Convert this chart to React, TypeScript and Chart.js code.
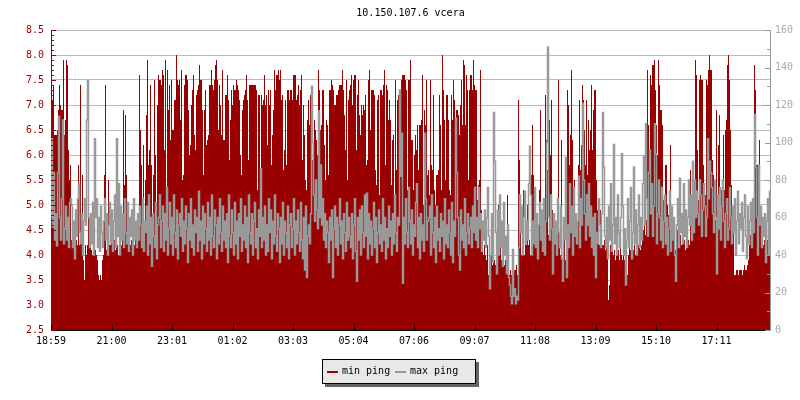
import React, { useEffect, useRef } from "react";
import { Chart, registerables } from "chart.js";

Chart.register(...registerables);

const chartTitle = "10.150.107.6 vcera";
const tickLabels = ["18:59","21:00","23:01","01:02","03:03","05:04","07:06","09:07","11:08","13:09","15:10","17:11"];

const minPing = [
6.5,6.5,7.1,7.4,6.4,6.4,6.4,6.5,6.9,7.4,7.0,6.9,6.9,7.9,6.4,6.7,7.9,7.8,6.1,5.5,
5.8,4.3,4.4,4.2,4.1,4.0,4.3,4.2,5.8,4.2,7.4,4.4,5.6,3.9,3.5,4.2,4.0,4.2,4.9,4.2,
4.4,4.1,4.0,4.1,4.0,4.1,4.0,3.9,3.6,3.5,3.6,3.5,3.9,4.0,5.6,7.4,4.1,4.2,5.5,4.2,
4.2,4.3,4.1,4.2,4.3,4.1,4.2,4.2,4.0,4.1,4.3,4.2,4.3,6.9,5.4,6.8,5.6,4.3,4.2,4.4,
4.2,4.3,4.1,4.3,4.2,4.4,4.2,4.3,4.4,7.6,6.5,5.8,4.6,6.2,4.5,5.5,6.8,7.9,5.8,6.1,
7.4,5.8,4.6,5.6,7.5,6.0,4.8,7.0,7.6,7.5,7.5,7.4,7.7,7.6,6.1,7.9,5.0,7.7,6.9,7.4,
6.3,7.5,6.5,6.5,7.1,7.1,8.0,7.5,7.4,7.5,6.7,7.7,5.5,5.6,7.4,7.6,7.6,7.5,6.9,6.0,
6.2,7.0,7.3,7.6,6.4,6.1,7.2,7.3,7.4,7.8,7.5,7.5,6.9,5.6,6.9,7.3,6.2,6.3,6.4,7.4,
7.4,7.7,7.4,7.3,7.5,7.8,7.9,7.5,6.5,7.4,7.0,6.4,7.7,6.3,6.3,7.2,7.2,7.6,7.1,5.9,
6.7,7.3,7.0,7.4,7.3,7.3,7.5,7.4,7.3,7.1,6.0,5.6,6.9,7.1,7.2,7.3,7.6,7.1,5.9,7.4,
7.4,7.4,7.4,7.4,7.4,7.4,7.3,5.3,7.2,7.2,5.6,7.2,7.0,7.1,7.6,7.0,7.2,6.2,7.3,7.0,
7.3,5.8,6.4,6.9,7.7,7.3,7.6,7.6,7.7,7.5,7.7,7.1,7.2,5.7,6.1,7.1,5.8,7.3,7.3,7.1,
7.3,7.3,7.1,7.6,7.6,7.6,7.1,7.2,7.4,7.0,7.3,7.6,5.9,7.0,6.4,5.5,5.3,6.7,7.1,6.6,
7.2,6.1,5.9,5.6,6.7,6.5,6.3,6.0,7.7,7.3,6.5,6.6,7.3,7.3,6.2,5.5,6.7,6.6,5.6,7.3,
7.3,7.5,7.4,7.3,7.0,7.0,7.2,7.2,7.3,7.4,7.4,7.4,7.7,7.3,6.8,6.1,7.5,5.5,7.1,7.3,
7.4,7.6,7.0,7.5,7.6,7.6,6.1,7.2,7.5,6.8,6.4,7.0,6.8,7.0,6.9,7.2,5.8,5.9,7.5,7.7,
6.5,7.3,7.3,7.3,7.2,5.7,5.4,7.1,7.2,5.2,7.3,7.3,7.2,7.4,7.7,5.8,7.4,7.3,6.7,7.1,
6.7,5.4,6.3,6.4,5.0,7.5,5.7,7.1,7.2,7.3,6.4,7.5,7.6,7.6,7.6,7.5,7.3,5.3,7.5,7.5,
7.9,6.3,6.3,5.3,6.0,6.4,6.1,6.6,5.7,6.6,6.6,6.7,7.6,5.0,6.9,6.6,7.5,5.6,5.7,5.2,
7.5,5.8,5.7,7.2,5.3,5.0,5.6,5.6,5.7,7.2,6.6,5.3,8.0,7.3,6.7,5.5,7.2,7.2,6.7,5.3,
5.2,7.2,6.7,7.5,7.1,6.1,6.9,6.9,6.8,6.4,7.0,7.5,6.6,7.9,7.8,6.6,7.6,7.3,5.5,7.3,
7.6,7.6,7.3,7.9,7.4,7.3,7.3,5.1,5.4,5.5,7.7,4.9,4.1,4.0,4.2,4.0,3.9,4.2,3.6,3.8,
3.9,4.1,3.8,4.0,3.9,3.8,4.0,3.7,5.0,4.1,4.3,3.9,4.6,4.0,3.8,3.9,4.0,5.2,3.7,3.6,
3.7,3.6,3.7,3.6,3.7,3.7,3.8,3.6,7.1,5.9,5.2,4.0,4.6,5.3,4.0,4.7,4.2,5.0,4.2,4.3,
4.0,5.6,6.6,5.6,4.5,4.2,4.3,4.1,4.2,5.3,6.9,4.9,4.4,5.1,4.4,7.2,6.3,5.7,4.4,6.7,
6.0,7.1,4.9,4.4,4.5,4.6,4.5,4.3,7.5,4.2,4.0,6.3,3.6,3.7,4.4,3.9,5.6,7.3,7.0,5.8,
6.4,7.7,6.3,4.8,5.5,4.5,4.4,4.4,5.8,7.1,5.7,6.2,7.4,7.1,6.5,5.8,7.1,5.6,6.7,6.1,
6.5,7.4,6.1,6.9,7.3,7.3,5.5,4.9,4.3,4.2,4.9,4.3,4.2,4.2,4.3,4.1,4.2,4.0,3.1,3.4,
4.2,4.1,4.2,4.0,4.1,3.9,4.1,4.0,4.1,3.9,4.2,4.0,3.9,4.1,3.9,4.0,3.4,3.6,4.0,4.2,
4.1,4.2,4.0,4.1,4.2,4.0,4.2,4.1,4.2,4.3,4.1,4.2,5.2,4.5,4.6,4.4,4.7,7.7,6.6,5.8,
7.6,7.4,7.8,7.8,7.9,7.3,6.6,6.0,7.9,7.4,6.9,6.9,6.6,5.1,5.1,5.8,5.8,5.0,4.8,4.7,
6.2,4.4,4.5,4.3,4.2,4.1,4.2,4.5,4.3,4.2,4.4,4.2,4.5,4.4,4.3,4.1,4.2,4.4,4.3,4.2,
5.7,4.5,5.3,5.3,5.0,7.9,7.6,6.1,5.1,7.5,7.6,7.5,7.5,5.8,5.2,5.2,7.5,7.4,7.7,8.0,
7.7,7.7,5.9,5.6,5.4,4.7,6.9,5.2,6.2,6.8,4.6,5.3,5.2,6.4,5.3,6.5,6.7,7.8,8.0,7.5,
6.5,5.4,4.6,4.5,3.6,3.6,3.7,3.7,3.6,3.7,3.7,3.7,3.6,3.7,3.8,3.7,3.7,3.8,3.9,4.2,
4.4,4.8,4.9,4.8,7.8,7.3,5.8,5.8,4.5,6.3,4.8,4.4,4.3,4.2,4.3,4.4,4.2,4.3,4.4,4.3,
];

const maxPing = [
60,102,55,84,48,62,45,84,114,60,48,70,112,46,54,66,48,60,44,68,
70,66,44,58,38,64,50,70,78,52,46,62,40,58,70,56,112,133,60,44,
62,46,68,40,102,60,70,44,60,42,66,52,44,58,70,48,62,40,56,68,
46,64,42,58,72,44,102,50,78,40,66,48,62,44,70,52,46,68,42,60,
50,64,40,70,48,58,44,62,48,66,56,44,70,42,58,52,66,40,72,46,
60,34,62,50,44,68,38,56,60,72,44,58,66,42,62,48,76,40,54,68,
46,60,40,72,52,44,64,38,56,62,50,70,42,58,46,66,54,36,62,48,
70,44,56,40,64,52,60,42,74,48,58,38,66,46,62,54,42,68,48,60,
40,72,50,44,64,56,38,60,46,70,52,42,66,48,58,44,62,36,72,50,
44,64,52,40,68,46,58,38,62,50,70,42,56,48,66,44,60,36,72,52,
46,62,40,58,68,44,54,38,64,50,86,44,60,48,66,40,56,42,70,52,
64,38,58,46,72,50,42,62,54,36,60,46,68,40,58,52,44,66,38,56,
62,44,54,70,40,58,46,64,52,42,68,48,38,60,32,66,28,50,56,46,
62,130,100,72,58,80,64,54,117,60,88,56,70,48,62,44,58,52,36,60,
48,64,28,54,66,44,60,40,56,70,46,58,38,62,52,42,68,48,60,50,
44,62,38,56,70,42,26,60,48,64,40,66,52,44,72,50,73,38,62,46,
58,40,54,68,44,60,36,52,64,46,56,42,70,48,60,38,54,44,66,50,
58,40,62,46,72,52,42,60,56,128,82,105,25,60,46,70,52,44,76,58,
46,64,40,56,50,68,78,44,60,38,62,48,56,42,105,70,48,58,60,66,
40,72,52,44,60,36,66,48,54,42,62,50,58,38,70,46,56,44,64,52,
40,68,36,58,50,113,84,60,40,32,64,48,56,44,70,40,52,62,46,54,
60,44,66,52,76,48,60,44,76,54,62,42,58,48,64,44,60,76,50,22,
40,62,36,116,90,52,30,64,40,72,44,58,34,68,40,50,30,56,28,24,
18,14,43,18,22,14,18,16,44,72,52,66,40,60,74,46,58,48,78,98,
72,40,58,46,76,44,62,38,56,68,48,64,42,70,40,58,100,151,60,48,
72,54,30,62,46,58,40,70,52,44,66,38,26,60,48,92,28,56,44,78,
52,66,40,76,50,62,46,58,82,44,70,56,121,80,62,48,72,56,78,50,
66,44,60,40,62,28,52,46,70,56,44,62,116,87,50,44,60,38,66,48,
78,42,56,99,46,60,40,72,52,44,60,94,66,40,54,24,48,70,44,58,
76,38,52,87,46,64,40,56,72,44,60,48,78,93,56,110,70,50,84,96,
62,78,50,66,110,94,46,62,80,60,48,76,44,58,72,46,60,40,54,74,
42,66,48,60,40,26,56,70,44,81,52,62,46,78,50,64,44,60,80,56,
72,48,90,52,80,60,74,62,56,80,72,50,64,78,66,50,60,102,70,90,
84,76,62,52,80,60,30,72,54,76,48,66,80,58,44,62,70,48,54,76,
60,46,66,52,70,40,58,74,46,62,54,68,42,60,72,50,38,66,46,58,
68,44,70,52,115,87,60,40,88,56,66,44,60,50,62,36,58,70,40,74,
];

const RED = "#990000";
const GREY = "#999999";
const FONT = "'DejaVu Sans Mono', monospace";

const axisDecor = {
  id: "axisDecor",
  afterDatasetsDraw(chart: any) {
    const { ctx, scales, chartArea } = chart;
    ctx.save();
    ctx.lineWidth = 1;
    const y = scales.y;
    ctx.strokeStyle = RED;
    for (let k = 0; k <= 60; k++) {
      const p = Math.round(y.getPixelForValue(2.5 + k * 0.1)) + 0.5;
      const len = k % 5 === 0 ? 5 : 3;
      ctx.beginPath();
      ctx.moveTo(chartArea.left, p);
      ctx.lineTo(chartArea.left + len, p);
      ctx.stroke();
    }
    const y1 = scales.y1;
    ctx.strokeStyle = GREY;
    for (let v = 0; v <= 160; v += 10) {
      const p = Math.round(y1.getPixelForValue(v)) + 0.5;
      const len = v % 20 === 0 ? 5 : 3;
      ctx.beginPath();
      ctx.moveTo(chartArea.right, p);
      ctx.lineTo(chartArea.right - len, p);
      ctx.stroke();
    }
    const x = scales.x;
    ctx.strokeStyle = "#000";
    x.ticks.forEach((t: any) => {
      const p = Math.round(x.getPixelForValue(t.value)) + 0.5;
      ctx.beginPath();
      ctx.moveTo(p, chartArea.bottom);
      ctx.lineTo(p, chartArea.bottom - 5);
      ctx.stroke();
    });
    ctx.restore();
  },
};

const boxLegend = {
  id: "boxLegend",
  afterDraw(chart: any) {
    const { ctx } = chart;
    const [a, b] = chart.data.datasets;
    ctx.save();
    ctx.fillStyle = "#666666";
    ctx.fillRect(325, 362, 154, 25);
    ctx.fillStyle = "#e8e8e8";
    ctx.fillRect(322, 359, 154, 25);
    ctx.strokeStyle = "#000";
    ctx.lineWidth = 1;
    ctx.strokeRect(322.5, 359.5, 153, 24);
    ctx.font = `10px ${FONT}`;
    ctx.textBaseline = "middle";
    ctx.textAlign = "left";
    ctx.fillStyle = RED;
    ctx.fillRect(327, 371, 11, 2);
    ctx.fillStyle = GREY;
    ctx.fillRect(395, 371, 11, 2);
    ctx.fillStyle = "#000";
    ctx.fillText(a.label, 342, 371);
    ctx.fillText(b.label, 410, 371);
    ctx.restore();
  },
};

export default function App() {
  const ref = useRef<HTMLCanvasElement>(null);
  useEffect(() => {
    const chart = new Chart(ref.current as HTMLCanvasElement, {
      type: "line",
      data: {
        datasets: [
          {
            label: "min ping",
            data: minPing.map((y, i) => ({ x: i * 2, y })),
            yAxisID: "y",
            stepped: "after",
            fill: "origin",
            backgroundColor: RED,
            borderColor: "transparent",
            borderWidth: 0,
            pointRadius: 0,
            order: 2,
          },
          {
            label: "max ping",
            data: maxPing.map((y, i) => ({ x: i * 2 + 1, y })),
            yAxisID: "y1",
            stepped: "after",
            fill: false,
            borderColor: GREY,
            borderWidth: 1.5,
            pointRadius: 0,
            order: 1,
          },
        ],
      } as any,
      options: {
        animation: false,
        responsive: false,
        events: [],
        layout: { padding: 0 },
        plugins: {
          legend: { display: false },
          tooltip: { enabled: false },
          title: {
            display: true,
            fullSize: false,
            text: chartTitle,
            color: "#000",
            font: { family: FONT, size: 10, weight: "normal", lineHeight: 1.2 },
            padding: { top: 7, bottom: 11 },
          },
        },
        scales: {
          x: {
            type: "linear",
            min: 0,
            max: 1438,
            grid: { display: false, drawTicks: false },
            border: { color: "#000", width: 1 },
            afterBuildTicks(s: any) {
              s.ticks = tickLabels.map((_, k) => ({ value: k * 121 }));
            },
            afterFit(s: any) {
              s.height = 70;
            },
            ticks: {
              autoSkip: false,
              maxRotation: 0,
              color: "#000",
              padding: 5,
              font: { family: FONT, size: 10 },
              callback(v: any) {
                return tickLabels[Math.round(Number(v) / 121)];
              },
            },
          },
          y: {
            type: "linear",
            position: "left",
            min: 2.5,
            max: 8.5,
            grid: { color: "#bbbbbb", drawTicks: false, lineWidth: 1 },
            border: { color: RED, width: 1 },
            afterFit(s: any) {
              s.width = 51;
            },
            ticks: {
              stepSize: 0.5,
              color: RED,
              padding: 7,
              font: { family: FONT, size: 10 },
              callback(v: any) {
                return Number(v).toFixed(1);
              },
            },
          },
          y1: {
            type: "linear",
            position: "right",
            min: 0,
            max: 160,
            grid: { display: false, drawTicks: false },
            border: { color: GREY, width: 1 },
            afterFit(s: any) {
              s.width = 30;
            },
            ticks: {
              stepSize: 20,
              color: "#aaaaaa",
              padding: 5,
              font: { family: FONT, size: 10 },
            },
          },
        },
      } as any,
      plugins: [axisDecor, boxLegend],
    });
    return () => chart.destroy();
  }, []);
  return (
    <canvas
      ref={ref}
      width={800}
      height={400}
      style={{ position: "fixed", left: 0, top: 0, width: 800, height: 400, background: "#fff" }}
    />
  );
}
